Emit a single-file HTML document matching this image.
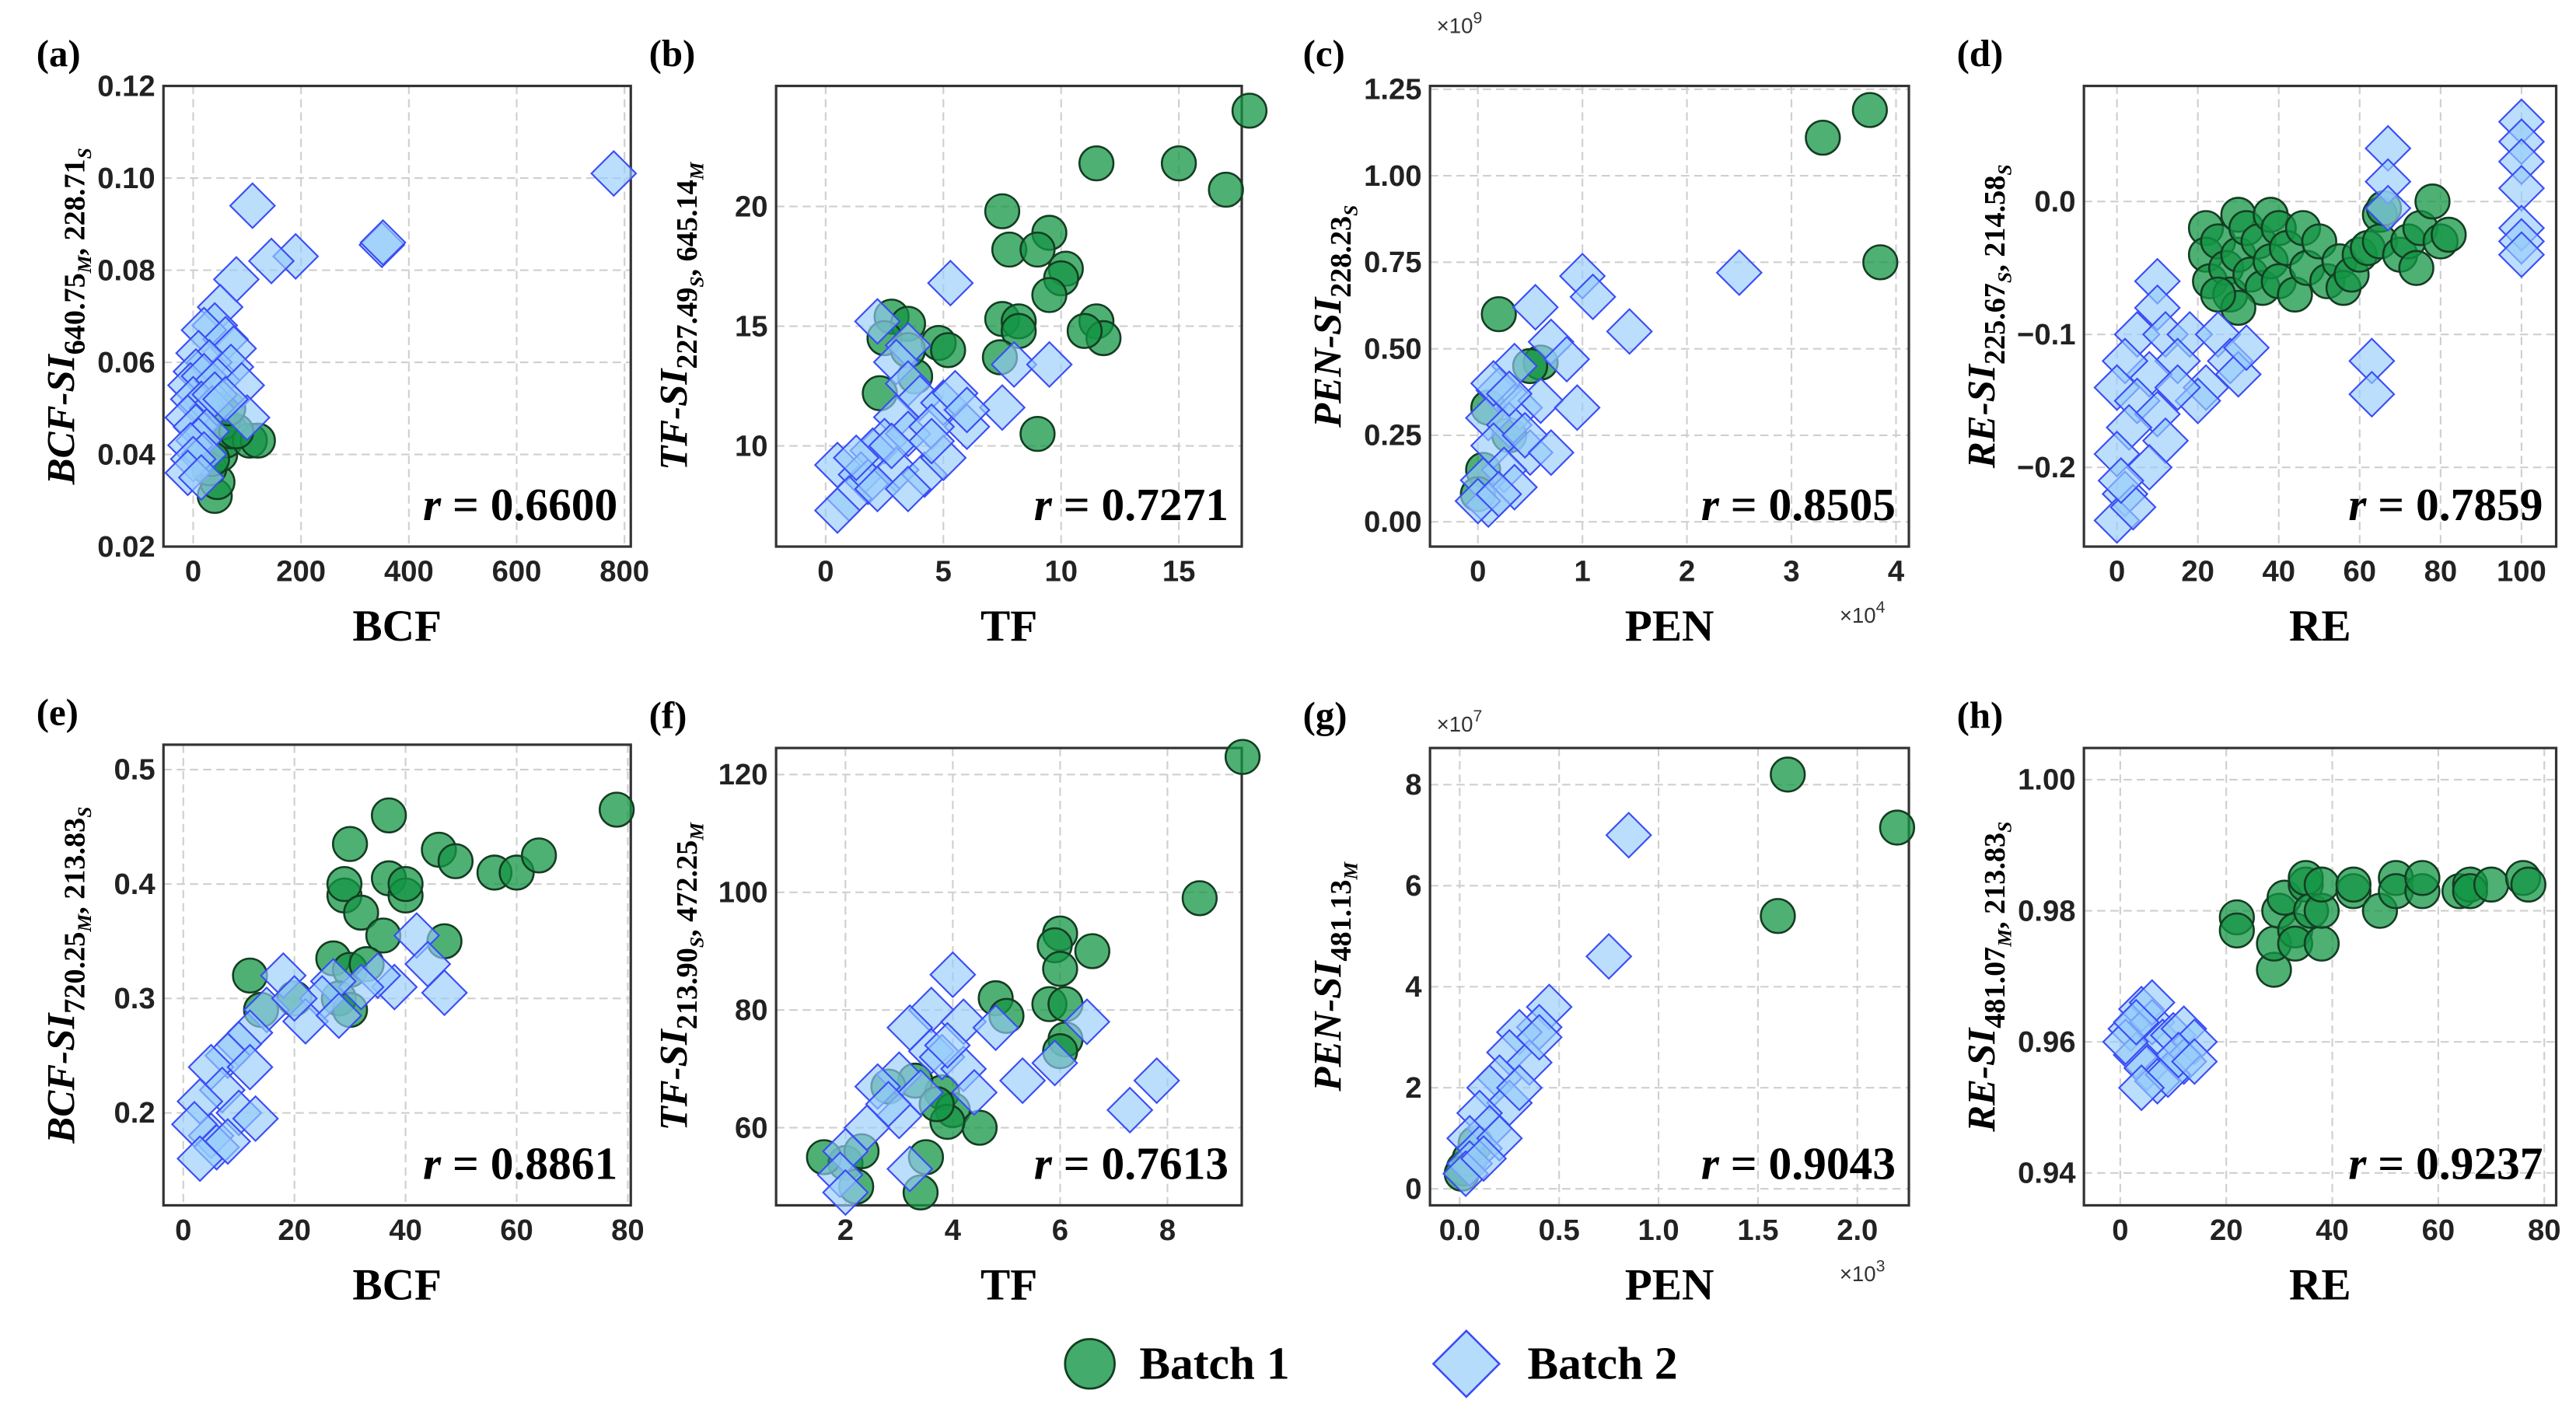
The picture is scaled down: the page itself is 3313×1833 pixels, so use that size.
<!DOCTYPE html>
<html><head><meta charset="utf-8"><style>
html,body{margin:0;padding:0;background:#fff;}
svg{display:block;}
.tick{font-family:"Liberation Sans",sans-serif;font-weight:bold;font-size:18px;fill:#222;}
.ser{font-family:"Liberation Serif",serif;font-weight:bold;}
</style></head><body>
<svg id="fig" width="3313" height="1833" viewBox="0 0 1560 863" xmlns="http://www.w3.org/2000/svg"></svg>
<script>
// ---------- data ----------
const aB1x=[40,45,30,50,60,70,55,105,120,80,35,65];
const aB1y=[0.031,0.034,0.037,0.040,0.043,0.045,0.047,0.043,0.043,0.045,0.039,0.050];
const aB2x=[780,350,352,110,190,145,80,50,40,20,60,75,10,30,70,5,-5,20,45,90,0,15,35,100,-10,5,25,10,-5,20,0,-10,15,40,60];
const aB2y=[0.101,0.0855,0.086,0.094,0.083,0.082,0.078,0.072,0.068,0.067,0.065,0.063,0.062,0.060,0.059,0.058,0.055,0.057,0.056,0.055,0.052,0.051,0.050,0.048,0.048,0.046,0.045,0.043,0.042,0.040,0.039,0.036,0.035,0.053,0.052];
const bB1x=[18,11.5,15,17,7.5,9.5,7.8,9,10.2,10,9.5,2.8,3.5,4.8,5.2,7.5,8.2,8.2,11.5,11.8,11,7.4,2.5,3.8,2.3,9,3.5];
const bB1y=[24,21.8,21.8,20.7,19.8,18.9,18.2,18.2,17.4,17.0,16.3,15.4,15.1,14.3,14.0,15.3,15.2,14.8,15.2,14.5,14.8,13.7,14.5,12.9,12.2,10.5,14.0];
const bB2x=[5.3,2.2,3.5,3,3.5,8,9.5,4,5,5.5,7.5,6,3,2.5,2,3.5,4.5,0.5,1.5,1.8,3,4.2,5,1.0,2.2,3.5,0.5,1.3,2.8,4.5,6];
const bB2y=[16.8,15.2,14.2,13.5,12.6,13.4,13.4,12.0,11.8,12.2,11.6,10.8,11.2,10.2,9.8,10.5,10.8,9.2,8.8,8.5,9.0,8.8,9.5,7.8,8.2,8.2,7.3,9.5,10.0,10.2,11.5];
const cB1x=[3.75,3.3,3.85,0.2,0.6,0.1,0.05,0.3,0,0.5];
const cB1y=[1.19,1.11,0.75,0.6,0.46,0.33,0.15,0.25,0.08,0.45];
const cB2x=[2.5,1.0,1.1,0.55,1.45,0.7,0.85,0.35,0.2,0.4,0.6,0.95,0.1,0.3,0.15,0.5,0.25,0.05,0.35,0.1,0,0.2,0.45,0.7,0.15,0.3];
const cB2y=[0.72,0.71,0.65,0.62,0.55,0.52,0.47,0.45,0.38,0.33,0.35,0.33,0.30,0.28,0.22,0.20,0.15,0.12,0.10,0.05,0.06,0.08,0.25,0.2,0.4,0.37];
const dB1x=[22,22,23,25,27,28,30,30,32,33,35,36,38,38,40,40,42,44,46,47,50,52,55,56,58,60,62,65,65,66,70,72,74,75,78,80,82,30,25];
const dB1y=[-0.02,-0.04,-0.06,-0.03,-0.05,-0.07,-0.01,-0.04,-0.02,-0.055,-0.03,-0.065,-0.01,-0.045,-0.02,-0.06,-0.035,-0.07,-0.02,-0.05,-0.03,-0.06,-0.045,-0.065,-0.055,-0.04,-0.035,-0.01,-0.03,-0.005,-0.04,-0.03,-0.05,-0.02,0.0,-0.03,-0.025,-0.08,-0.07];
const dB2x=[100,100,100,100,100,100,100,67,67,67,63,63,10,10,5,12,18,25,28,30,32,22,15,8,2,0,5,10,3,12,0,8,2,0,4,1,20,15];
const dB2y=[0.06,0.045,0.03,0.01,-0.02,-0.03,-0.04,0.04,0.015,-0.005,-0.12,-0.145,-0.06,-0.08,-0.1,-0.1,-0.1,-0.1,-0.12,-0.13,-0.11,-0.14,-0.12,-0.13,-0.12,-0.14,-0.15,-0.16,-0.17,-0.18,-0.19,-0.2,-0.22,-0.24,-0.23,-0.21,-0.15,-0.14];
const eB1x=[78,37,30,46,49,56,60,64,37,40,29,29,32,36,47,27,30,33,12,28,20,30,14,40];
const eB1y=[0.465,0.46,0.435,0.43,0.42,0.41,0.41,0.425,0.405,0.39,0.39,0.40,0.375,0.355,0.35,0.335,0.325,0.33,0.32,0.30,0.30,0.29,0.29,0.40];
const eB2x=[42,44,47,38,35,32,27,25,22,18,15,12,10,8,5,12,7,3,10,13,5,2,6,3,8,20,28];
const eB2y=[0.355,0.33,0.305,0.31,0.32,0.31,0.315,0.30,0.28,0.32,0.29,0.27,0.26,0.25,0.24,0.24,0.22,0.21,0.2,0.195,0.18,0.19,0.17,0.16,0.175,0.3,0.285];
const fB1x=[9.4,8.6,6.0,5.9,6.0,6.6,5.8,6.1,4.8,6.1,6.0,5.0,3.8,3.3,4.0,4.5,3.5,3.4,2.0,1.6,2.2,2.3,3.9,3.7,2.8];
const fB1y=[123,99,93,91,87,90,81,81,82,75,73,79,66,68,63,60,55,49,54,55,50,56,61,64,67];
const fB2x=[4.0,3.6,4.2,6.5,4.8,3.2,3.6,3.8,4.2,5.3,5.9,7.8,7.3,3.0,2.6,3.4,3.0,3.2,2.0,1.9,2.0,2.4,4.4,3.9,2.8];
const fB2y=[86,80,78,78,77,77,73,72,70,68,71,68,63,69,67,66,62,53,56,52,49,60,66,74,64];
const gB1x=[1.65,2.2,1.6,0.02,0.05,0.01,0.08];
const gB1y=[8.2,7.15,5.4,0.4,0.6,0.3,0.9];
const gB2x=[0.85,0.75,0.45,0.4,0.3,0.25,0.35,0.2,0.15,0.25,0.1,0.15,0.05,0.1,0.05,0.03,0.2,0.3,0.4,0.12];
const gB2y=[7.0,4.6,3.6,3.2,3.1,2.7,2.5,2.2,2.0,1.7,1.5,1.2,1.0,0.8,0.5,0.3,1.0,2.0,3.0,0.6];
const hB1x=[22,22,29,29,30,31,33,33,35,35,36,38,38,38,44,44,49,52,52,57,57,64,66,66,70,76,77];
const hB1y=[0.979,0.977,0.971,0.975,0.98,0.982,0.977,0.975,0.984,0.985,0.98,0.975,0.98,0.984,0.983,0.984,0.98,0.985,0.983,0.983,0.985,0.983,0.984,0.983,0.984,0.985,0.984];
const hB2x=[2,4,6,8,3,5,10,12,14,12,7,9,4,1,6,11,14,3];
const hB2y=[0.962,0.965,0.963,0.960,0.958,0.956,0.961,0.962,0.960,0.957,0.954,0.955,0.953,0.96,0.966,0.958,0.957,0.963];
// tick values / labels
const aXt=[0,200,400,600,800], aYt=[0.02,0.04,0.06,0.08,0.10,0.12], aYl=["0.02","0.04","0.06","0.08","0.10","0.12"];
const bXt=[0,5,10,15], bYt=[10,15,20];
const cXt=[0,1,2,3,4], cYt=[0,0.25,0.5,0.75,1.0,1.25], cYl=["0.00","0.25","0.50","0.75","1.00","1.25"];
const dXt=[0,20,40,60,80,100], dYt=[-0.2,-0.1,0.0], dYl=["\u22120.2","\u22120.1","0.0"];
const eXt=[0,20,40,60,80], eYt=[0.2,0.3,0.4,0.5], eYl=["0.2","0.3","0.4","0.5"];
const fXt=[2,4,6,8], fYt=[60,80,100,120];
const gXt=[0,0.5,1.0,1.5,2.0], gXl=["0.0","0.5","1.0","1.5","2.0"], gYt=[0,2,4,6,8];
const hXt=[0,20,40,60,80], hYt=[0.94,0.96,0.98,1.00], hYl=["0.94","0.96","0.98","1.00"];

const NS="http://www.w3.org/2000/svg";
const svg=document.getElementById('fig');
function mk(tag,attrs,parent){const e=document.createElementNS(NS,tag);for(const k in attrs)e.setAttribute(k,attrs[k]);(parent||svg).appendChild(e);return e;}

const panels=[
 {id:'a',L:99,R:382,T:52,B:331,xv0:0,xp0:117,xs:65.3/200,yv0:0.02,yp0:331,ys:279/0.10,xt:aXt,yt:aYt,yl:aYl,g:[aB1x,aB1y],b:[aB2x,aB2y],title:['BCF-SI',['640.75','M'],['228.71','S']],xl:'BCF',r:'0.6600',lab:'(a)'},
 {id:'b',L:470,R:752,T:52,B:331,xv0:0,xp0:500,xs:14.26,yv0:10,yp0:270,ys:14.5,xt:bXt,yt:bYt,g:[bB1x,bB1y],b:[bB2x,bB2y],title:['TF-SI',['227.49','S'],['645.14','M']],xl:'TF',r:'0.7271',lab:'(b)'},
 {id:'c',L:866,R:1156,T:52,B:331,xv0:0,xp0:895,xs:63.3,yv0:0,yp0:316,ys:209.6,xt:cXt,yt:cYt,yl:cYl,g:[cB1x,cB1y],b:[cB2x,cB2y],title:['PEN-SI',['228.23','S']],xl:'PEN',r:'0.8505',lab:'(c)',ex1:'9',ex2:'4'},
 {id:'d',L:1262,R:1548,T:52,B:331,xv0:0,xp0:1282,xs:2.45,yv0:0,yp0:122,ys:805,xt:dXt,yt:dYt,yl:dYl,g:[dB1x,dB1y],b:[dB2x,dB2y],title:['RE-SI',['225.67','S'],['214.58','S']],xl:'RE',r:'0.7859',lab:'(d)'},
 {id:'e',L:99,R:382,T:451,B:730,xv0:0,xp0:111,xs:3.365,yv0:0.2,yp0:674,ys:693,xt:eXt,yt:eYt,yl:eYl,g:[eB1x,eB1y],b:[eB2x,eB2y],title:['BCF-SI',['720.25','M'],['213.83','S']],xl:'BCF',r:'0.8861',lab:'(e)'},
 {id:'f',L:470,R:752,T:453,B:730,xv0:2,xp0:512,xs:32.5,yv0:60,yp0:683,ys:3.565,xt:fXt,yt:fYt,g:[fB1x,fB1y],b:[fB2x,fB2y],title:['TF-SI',['213.90','S'],['472.25','M']],xl:'TF',r:'0.7613',lab:'(f)'},
 {id:'g',L:866,R:1156,T:453,B:730,xv0:0,xp0:884,xs:120.4,yv0:0,yp0:720,ys:30.6,xt:gXt,xtl:gXl,yt:gYt,g:[gB1x,gB1y],b:[gB2x,gB2y],title:['PEN-SI',['481.13','M']],xl:'PEN',r:'0.9043',lab:'(g)',ex1:'7',ex2:'3'},
 {id:'h',L:1262,R:1548,T:453,B:730,xv0:0,xp0:1284,xs:3.21,yv0:0.96,yp0:631,ys:3970,xt:hXt,yt:hYt,yl:hYl,g:[hB1x,hB1y],b:[hB2x,hB2y],title:['RE-SI',['481.07','M'],['213.83','S']],xl:'RE',r:'0.9237',lab:'(h)'}
];

panels.forEach(p=>{
 const X=v=>p.xp0+(v-p.xv0)*p.xs, Y=v=>p.yp0-(v-p.yv0)*p.ys;
 const grp=mk('g',{});
 
 
 p.xt.forEach((v,i)=>{
  const gl=mk('line',{x1:X(v),x2:X(v),y1:p.T,y2:p.B,stroke:'#cfcfcf','stroke-width':1,'stroke-dasharray':'5,3'},grp);
   
  const t=mk('text',{x:X(v),y:p.B+21,'text-anchor':'middle',class:'tick'},grp);
  t.textContent=p.xtl?p.xtl[i]:String(v);
   
 });
 p.yt.forEach((v,i)=>{
  const gl=mk('line',{x1:p.L,x2:p.R,y1:Y(v),y2:Y(v),stroke:'#cfcfcf','stroke-width':1,'stroke-dasharray':'5,3'},grp);
   
  const t=mk('text',{x:p.L-5,y:Y(v)+6,'text-anchor':'end',class:'tick'},grp);
  t.textContent=p.yl?p.yl[i]:String(v);
   
 });
 const box=mk('rect',{x:p.L,y:p.T,width:p.R-p.L,height:p.B-p.T,fill:'none',stroke:'#333','stroke-width':1.5},grp);
  
 const pts=mk('g',{},grp);
 p.g[0].forEach((xv,i)=>{
  const c=mk('circle',{cx:X(xv),cy:Y(p.g[1][i]),r:10.3,fill:'rgba(20,150,70,0.75)',stroke:'#143d22','stroke-width':1.2},pts);
   
 });
 p.b[0].forEach((xv,i)=>{
  const cx=X(xv),cy=Y(p.b[1][i]),h=13.5;
  const d=mk('polygon',{points:`${cx},${cy-h} ${cx+h},${cy} ${cx},${cy+h} ${cx-h},${cy}`,fill:'rgba(150,205,250,0.65)',stroke:'#3b4cf5','stroke-width':1},pts);
   
 });
 const lab=mk('text',{x:p.L-77,y:p.T-12,class:'ser','font-size':23},grp);
 lab.textContent=p.lab;
  
 const xl=mk('text',{x:(p.L+p.R)/2,y:p.B+57,'text-anchor':'middle',class:'ser','font-size':27},grp);
 xl.textContent=p.xl;
  
 const rt=mk('text',{x:p.R-8,y:p.B-16,'text-anchor':'end',class:'ser','font-size':28},grp);
 const ri=mk('tspan',{'font-style':'italic'},rt); ri.textContent='r';
 const rv=mk('tspan',{},rt); rv.textContent=' = '+p.r;
  
 const yc=(p.T+p.B)/2, tx=p.L-54;
 const yt=mk('text',{x:0,y:0,transform:`translate(${tx},${yc}) rotate(-90)`,'text-anchor':'middle',class:'ser','font-size':24},grp);
 const m=mk('tspan',{'font-style':'italic'},yt); m.textContent=p.title[0];
 p.title.slice(1).forEach((s,k)=>{
  const n=mk('tspan',{'font-size':18,dy:k==0?6:-4},yt); n.textContent=(k?', ':'')+s[0];
  const q=mk('tspan',{'font-size':12,'font-style':'italic',dy:4},yt); q.textContent=s[1];
 });
  
 if(p.ex1){
  const e1=mk('text',{x:p.L+4,y:p.id==='c'?20:443,'font-family':'Liberation Sans, sans-serif','font-size':13,fill:'#333'},grp);
  const a1=mk('tspan',{},e1); a1.textContent='\u00d710';
  const b1=mk('tspan',{dy:-6,'font-size':10},e1); b1.textContent=p.ex1;
   
  const e2=mk('text',{x:p.R-42,y:p.B+46,'font-family':'Liberation Sans, sans-serif','font-size':13,fill:'#333'},grp);
  const a2=mk('tspan',{},e2); a2.textContent='\u00d710';
  const b2=mk('tspan',{dy:-6,'font-size':10},e2); b2.textContent=p.ex2;
   
 }
});
const lg=mk('g',{});
 
const lc=mk('circle',{cx:660,cy:826,r:15,fill:'rgba(20,150,70,0.8)',stroke:'#143d22','stroke-width':1.3},lg);
 
const lt1=mk('text',{x:690,y:835,class:'ser','font-size':28},lg); lt1.textContent='Batch 1';
 
const ld=mk('polygon',{points:'888,806 908,826 888,846 868,826',fill:'rgba(150,205,250,0.7)',stroke:'#3b4cf5','stroke-width':1.2},lg);
 
const lt2=mk('text',{x:925,y:835,class:'ser','font-size':28},lg); lt2.textContent='Batch 2';
 
</script>
</body></html>
